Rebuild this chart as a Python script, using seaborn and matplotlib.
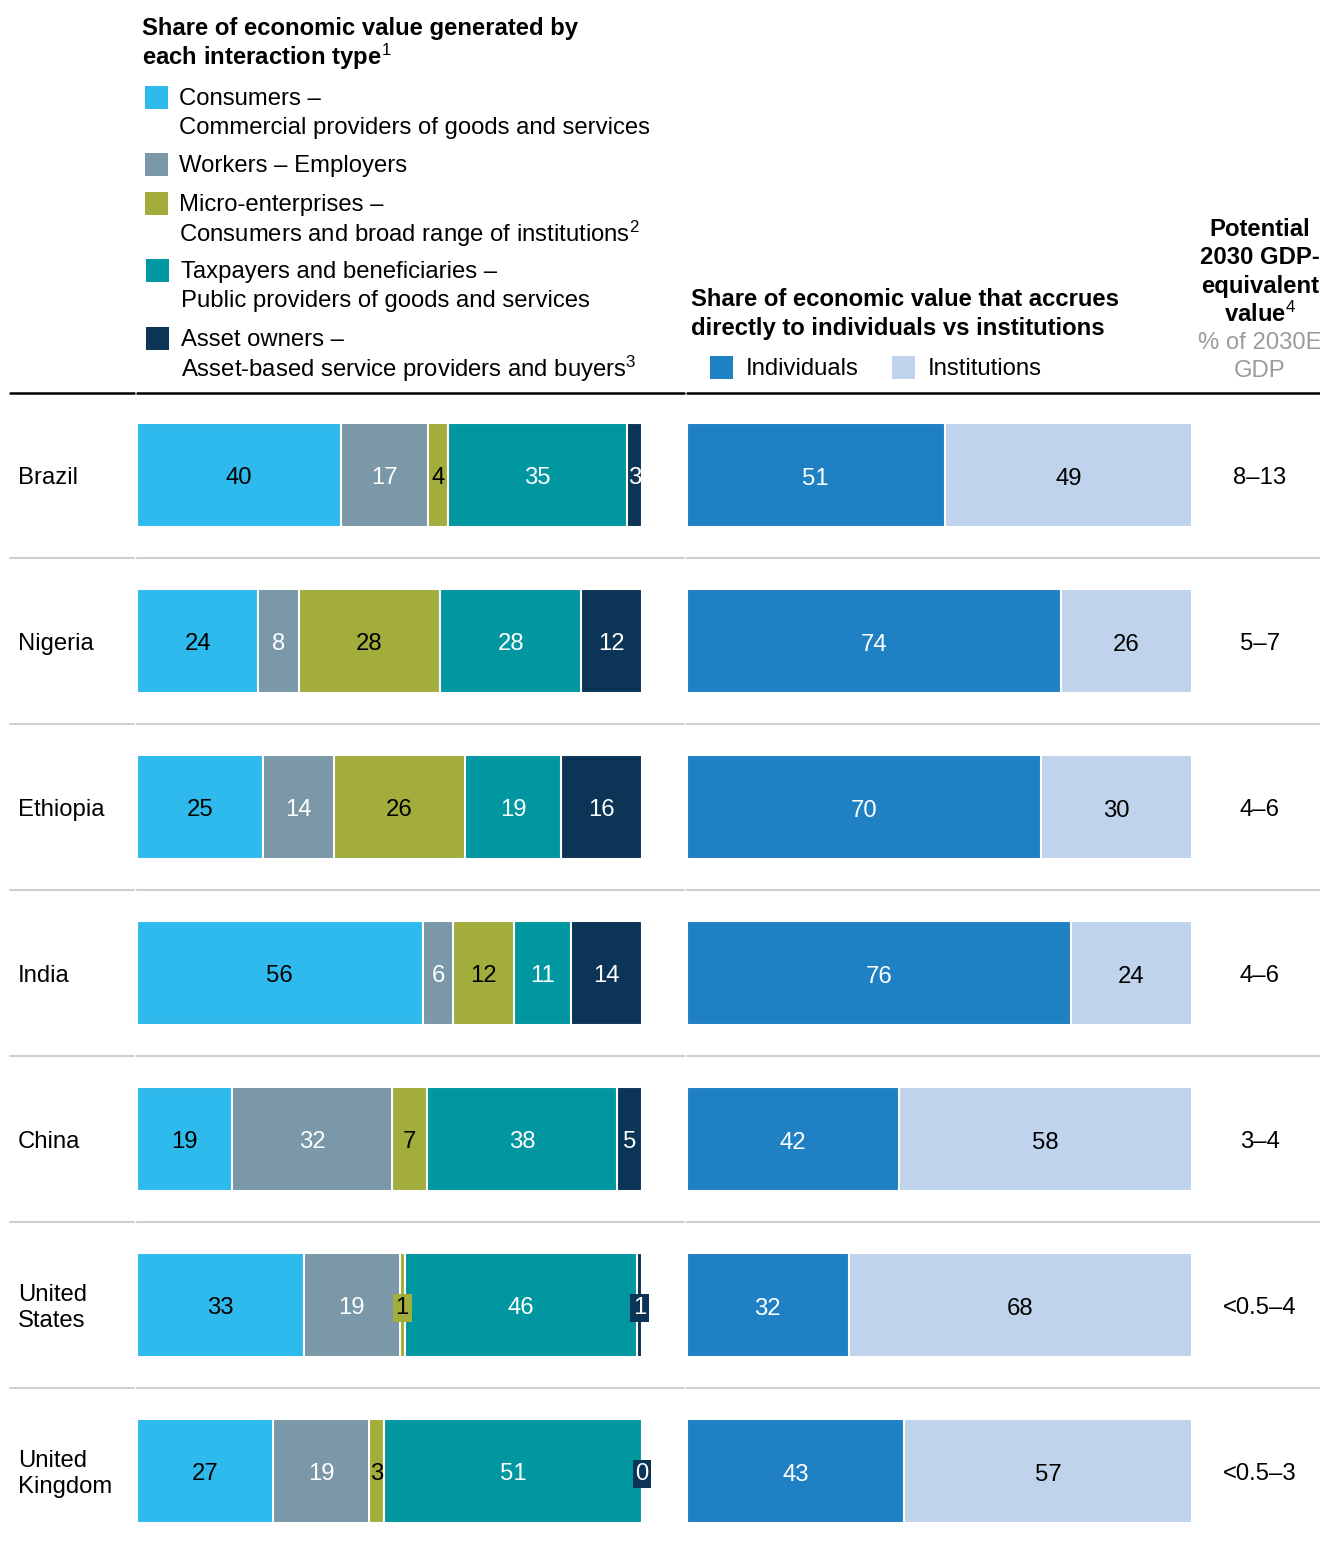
import numpy as np
import pandas as pd
import matplotlib.pyplot as plt
import seaborn as sns
from matplotlib.patches import Rectangle

# Data
countries = ["Brazil", "Nigeria", "Ethiopia", "India", "China", "United States", "United Kingdom"]
country_labels = ["Brazil", "Nigeria", "Ethiopia", "India", "China", "United\nStates", "United\nKingdom"]
consumers = [40, 24, 25, 56, 19, 33, 27]
workers = [17, 8, 14, 6, 32, 19, 19]
micro = [4, 28, 26, 12, 7, 1, 3]
taxpayers = [35, 28, 19, 11, 38, 46, 51]
asset_owners = [3, 12, 16, 14, 5, 1, 0]
individuals = [51, 74, 70, 76, 42, 32, 43]
institutions = [49, 26, 30, 24, 58, 68, 57]
gdp_value = ["8–13", "5–7", "4–6", "4–6", "3–4", "<0.5–4", "<0.5–3"]

seg_cols = ["Consumers", "Workers", "Micro", "Taxpayers", "Asset owners"]
seg_colors = ["#2EBAEC", "#7A98A8", "#A2AD3B", "#0097A1", "#0B3457"]
seg_text = ["black", "white", "black", "white", "white"]
ind_colors = ["#1F80C4", "#BFD4EC"]
ind_text = ["white", "black"]

sns.set_theme(style="white")
plt.rcParams["font.family"] = ["Liberation Sans", "DejaVu Sans"]
plt.rcParams["text.color"] = "black"
plt.rcParams["mathtext.fontset"] = "custom"
plt.rcParams["mathtext.rm"] = "Liberation Sans"
plt.rcParams["mathtext.bf"] = "Liberation Sans:bold"
plt.rcParams["mathtext.default"] = "regular"

W, H = 1320, 1547
FS = 17.2


def fx(x):
    return x / W


def fy(y):
    # +2 px nudge so centred text sits like the reference
    return 1 - (y + 2) / H


df = pd.DataFrame({"country": countries, "Consumers": consumers, "Workers": workers,
                   "Micro": micro, "Taxpayers": taxpayers, "Asset owners": asset_owners})
# 100% stacked: scale each row to its total
shares = df[seg_cols].div(df[seg_cols].sum(axis=1), axis=0) * 100
cum = shares.cumsum(axis=1)

df2 = pd.DataFrame({"country": countries, "Individuals": individuals, "Institutions": institutions})
cum2 = df2[["Individuals", "Institutions"]].cumsum(axis=1)

fig = plt.figure(figsize=(W / 100, H / 100), dpi=100)
ax1 = fig.add_axes([fx(137) , 0, 505 / W, 1155 / H])
ax2 = fig.add_axes([687 / W, 0, 505 / W, 1155 / H])
ax1.set_position([137 / W, 0, 505 / W, 1155 / H])

# stacked bars: draw cumulative totals from the widest down
for col, color in reversed(list(zip(seg_cols, seg_colors))):
    sns.barplot(x=cum[col], y=df["country"], color=color, width=0.625, saturation=1,
                edgecolor="white", linewidth=1.5, errorbar=None, orient="h", ax=ax1)
for col, color in reversed(list(zip(["Individuals", "Institutions"], ind_colors))):
    sns.barplot(x=cum2[col], y=df2["country"], color=color, width=0.625, saturation=1,
                edgecolor="white", linewidth=1.5, errorbar=None, orient="h", ax=ax2)

for ax in (ax1, ax2):
    ax.set_xlim(0, 100)
    ax.set_ylim(6.458, -0.5)
    ax.axis("off")

# segment labels
for i in range(len(countries)):
    start = 0
    for j, col in enumerate(seg_cols):
        v = df.loc[i, col]
        s = shares.loc[i, col]
        kw = {}
        if v <= 1:
            kw["bbox"] = dict(boxstyle="square,pad=0.12", fc=seg_colors[j], ec="none")
        ax1.text(start + s / 2, i + 0.02, str(v), ha="center", va="center", fontsize=FS,
                 color=seg_text[j], **kw)
        start += s
    start = 0
    for j, col in enumerate(["Individuals", "Institutions"]):
        v = df2.loc[i, col]
        ax2.text(start + v / 2, i + 0.025, str(v), ha="center", va="center", fontsize=FS,
                 color=ind_text[j])
        start += v
    # country name and GDP value
    ax1.text((18 - 137) / 505, i + 0.02, country_labels[i], transform=ax1.get_yaxis_transform(),
             ha="left", va="center", fontsize=FS, linespacing=1.25)
    ax2.text((1260 - 687) / 505, i + 0.02, gdp_value[i], transform=ax2.get_yaxis_transform(),
             ha="center", va="center", fontsize=FS)

# separators
segments = [(ax1, 10, 134, 137), (ax1, 137, 684, 137), (ax2, 687, 1320, 687)]
for i in range(len(countries) - 1):
    y = i + 0.5
    for ax, a, b, x0 in segments:
        ax.axhline(y, xmin=(a - x0) / 505, xmax=(b - x0) / 505, color="#D0D0D0", lw=1.5,
                   clip_on=False)
for ax, a, b, x0 in segments:
    ax.axhline(-0.493, xmin=(a - x0) / 505, xmax=(b - x0) / 505, color="black", lw=1.8,
               clip_on=False)

# left header with legend
fig.text(fx(142), fy(27), "Share of economic value generated by", fontsize=FS,
         fontweight="bold", va="center", ha="left")
fig.text(fx(142), fy(55), r"each interaction type$^{\mathrm{1}}$", fontsize=FS,
         fontweight="bold", va="center", ha="left")

legend_rows = [
    (145, 86, seg_colors[0], 179, [(97, "Consumers –"), (126, "Commercial providers of goods and services")]),
    (145, 153, seg_colors[1], 179, [(164, "Workers – Employers")]),
    (145, 192, seg_colors[2], 179, [(203, "Micro-enterprises –"),
                                    (232, "Consumers and broad range of institutions$^2$")]),
    (146, 259, seg_colors[3], 181, [(270, "Taxpayers and beneficiaries –"),
                                    (299, "Public providers of goods and services")]),
    (146, 327, seg_colors[4], 181, [(338, "Asset owners –"),
                                    (367, "Asset-based service providers and buyers$^3$")]),
]
for rx, ry, c, tx, lines in legend_rows:
    fig.add_artist(Rectangle((rx / W, 1 - (ry + 23) / H), 23 / W, 23 / H,
                             transform=fig.transFigure, facecolor=c, edgecolor="none"))
    for ty, t in lines:
        fig.text(fx(tx), fy(ty), t, fontsize=FS, va="center", ha="left")

# right header
fig.text(fx(691), fy(297), "Share of economic value that accrues", fontsize=FS,
         fontweight="bold", va="center", ha="left")
fig.text(fx(691), fy(326), "directly to individuals vs institutions", fontsize=FS,
         fontweight="bold", va="center", ha="left")
for rx, c, tx, t in [(710, ind_colors[0], 746, "Individuals"), (892, ind_colors[1], 928, "Institutions")]:
    fig.add_artist(Rectangle((rx / W, 1 - 379 / H), 23 / W, 23 / H,
                             transform=fig.transFigure, facecolor=c, edgecolor="none"))
    fig.text(fx(tx), fy(367), t, fontsize=FS, va="center", ha="left")

# GDP header
for ty, t in [(227, "Potential"), (255, "2030 GDP-"), (284, "equivalent"),
              (312, r"value$^{\mathrm{4}}$")]:
    fig.text(fx(1260), fy(ty), t, fontsize=FS, fontweight="bold", va="center", ha="center")
for ty, t in [(341, "% of 2030E"), (369, "GDP")]:
    fig.text(fx(1260), fy(ty), t, fontsize=FS, color="#9B9B9B", va="center", ha="center")

fig.savefig("out.png", dpi=100)
